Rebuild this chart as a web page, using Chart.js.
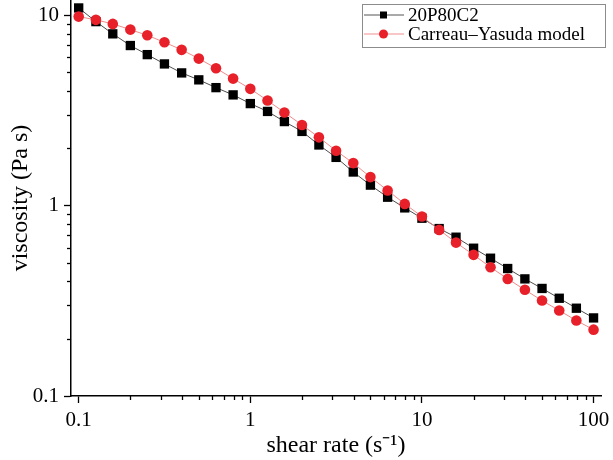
<!DOCTYPE html>
<html>
<head>
<meta charset="utf-8">
<script src="https://cdn.jsdelivr.net/npm/chart.js@4/dist/chart.umd.min.js"></script>
<style>
  body { margin: 0; background: #fff; }
  #viscChart { display: block; }
</style>
</head>
<body>
<canvas id="viscChart"></canvas>
<script>
const shearRate = [0.1, 0.126, 0.158, 0.2, 0.251, 0.316, 0.398, 0.501, 0.631, 0.794,
  1, 1.26, 1.58, 2, 2.51, 3.16, 3.98, 5.01, 6.31, 7.94,
  10, 12.6, 15.8, 20, 25.1, 31.6, 39.8, 50.1, 63.1, 79.4, 100];
const measured = [10.9, 9.24, 7.97, 6.92, 6.2, 5.54, 4.97, 4.57, 4.16, 3.81,
  3.43, 3.12, 2.76, 2.45, 2.08, 1.79, 1.50, 1.28, 1.106, 0.972,
  0.858, 0.757, 0.682, 0.597, 0.529, 0.467, 0.412, 0.367, 0.326, 0.289, 0.257];
const carreau = [9.82, 9.44, 8.99, 8.39, 7.83, 7.2, 6.57, 5.91, 5.26, 4.64,
  4.10, 3.56, 3.08, 2.65, 2.28, 1.94, 1.67, 1.41, 1.20, 1.02,
  0.876, 0.745, 0.639, 0.551, 0.474, 0.412, 0.361, 0.317, 0.281, 0.249, 0.223];
const xTicks = [0.1, 1, 10, 100];
const yTicks = [0.1, 1, 10];
const seriesNames = ['20P80C2', 'Carreau\u2013Yasuda model'];

const SERIF = "'Liberation Serif', 'Times New Roman', serif";

const canvas = document.getElementById('viscChart');
canvas.width = 613;
canvas.height = 460;
canvas.style.width = '613px';
canvas.style.height = '460px';
const ctx = canvas.getContext('2d');

// minor ticks (2..9 per decade), shorter than the major ones
const minorTicks = {
  id: 'minorTicks',
  afterDraw(chart) {
    const c = chart.ctx;
    c.save();
    c.strokeStyle = '#000';
    c.lineWidth = 1.3;
    const xs = chart.scales.x, ys = chart.scales.y;
    for (let k = -2; k <= 2; k++) {
      for (let m = 2; m <= 9; m++) {
        const v = m * Math.pow(10, k);
        if (v > xs.min && v < xs.max) {
          const px = Math.round(xs.getPixelForValue(v)) + 0.5;
          c.beginPath();
          c.moveTo(px, xs.top);
          c.lineTo(px, xs.top + 4);
          c.stroke();
        }
        if (v > ys.min && v < ys.max) {
          const py = Math.round(ys.getPixelForValue(v)) + 0.5;
          c.beginPath();
          c.moveTo(ys.right, py);
          c.lineTo(ys.right - 4, py);
          c.stroke();
        }
      }
    }
    c.restore();
  }
};

// boxed legend, line + marker samples
const boxLegend = {
  id: 'boxLegend',
  afterDraw(chart) {
    const c = chart.ctx;
    c.save();
    c.strokeStyle = '#8c8c8c';
    c.lineWidth = 1;
    c.strokeRect(362.5, 4.5, 243, 43);
    c.font = '19px ' + SERIF;
    c.textBaseline = 'middle';
    c.fillStyle = '#000';
    const rows = [15, 34];
    // row 1
    c.strokeStyle = '#555';
    c.beginPath(); c.moveTo(364, rows[0]); c.lineTo(404, rows[0]); c.stroke();
    c.fillStyle = '#000';
    c.fillRect(380, rows[0] - 3.5, 7, 7);
    c.fillText(seriesNames[0], 408, rows[0] + 1);
    // row 2
    c.strokeStyle = '#f09090';
    c.beginPath(); c.moveTo(364, rows[1]); c.lineTo(404, rows[1]); c.stroke();
    c.fillStyle = '#e8202a';
    c.beginPath(); c.arc(383.5, rows[1], 4.5, 0, Math.PI * 2); c.fill();
    c.fillStyle = '#000';
    c.fillText(seriesNames[1], 408, rows[1] + 1);
    c.restore();
  }
};

new Chart(ctx, {
  type: 'line',
  data: {
    datasets: [{
      label: seriesNames[0],
      data: shearRate.map((x, i) => ({ x: x, y: measured[i] })),
      borderColor: '#4d4d4d',
      borderWidth: 1,
      pointStyle: 'rect',
      pointRadius: 6.6,
      pointBackgroundColor: '#000',
      pointBorderWidth: 0,
      order: 1,
      clip: false
    }, {
      label: seriesNames[1],
      data: shearRate.map((x, i) => ({ x: x, y: carreau[i] })),
      borderColor: '#f08a8a',
      borderWidth: 1,
      pointStyle: 'circle',
      pointRadius: 5.3,
      pointBackgroundColor: '#e8202a',
      pointBorderWidth: 0,
      order: 0,
      clip: false
    }]
  },
  options: {
    responsive: false,
    maintainAspectRatio: false,
    animation: false,
    layout: { autoPadding: false, padding: { top: 0, right: 12, bottom: 0, left: 0 } },
    elements: { line: { tension: 0 } },
    plugins: {
      legend: { display: false },
      tooltip: { enabled: false }
    },
    scales: {
      x: {
        type: 'logarithmic',
        min: 0.0902,
        max: 110.5,
        afterBuildTicks: s => { s.ticks = xTicks.map(v => ({ value: v })); },
        afterFit: s => { s.height = 64; s.paddingLeft = 0; s.paddingRight = 0; },
        ticks: {
          callback: v => String(v),
          font: { family: SERIF, size: 21 },
          color: '#000',
          padding: 5,
          maxRotation: 0
        },
        grid: { drawOnChartArea: false, drawTicks: true, tickLength: 7, tickColor: '#000', tickWidth: 1.3 },
        border: { display: true, color: '#000', width: 1.5 },
        title: {
          display: true,
          text: 'shear rate (s\u207B\u00B9)',
          font: { family: SERIF, size: 24 },
          color: '#000',
          padding: { top: 0, bottom: 0 }
        }
      },
      y: {
        type: 'logarithmic',
        min: 0.1,
        max: 12,
        afterBuildTicks: s => { s.ticks = yTicks.map(v => ({ value: v })); },
        afterFit: s => { s.width = 71; s.paddingTop = 0; s.paddingBottom = 0; },
        ticks: {
          callback: v => String(v),
          font: { family: SERIF, size: 21 },
          color: '#000',
          padding: 5
        },
        grid: { drawOnChartArea: false, drawTicks: true, tickLength: 7, tickColor: '#000', tickWidth: 1.3 },
        border: { display: true, color: '#000', width: 1.5 },
        title: {
          display: true,
          text: 'viscosity (Pa s)',
          font: { family: SERIF, size: 24 },
          color: '#000',
          padding: { top: 6, bottom: 0 }
        }
      }
    }
  },
  plugins: [minorTicks, boxLegend]
});
</script>
</body>
</html>
